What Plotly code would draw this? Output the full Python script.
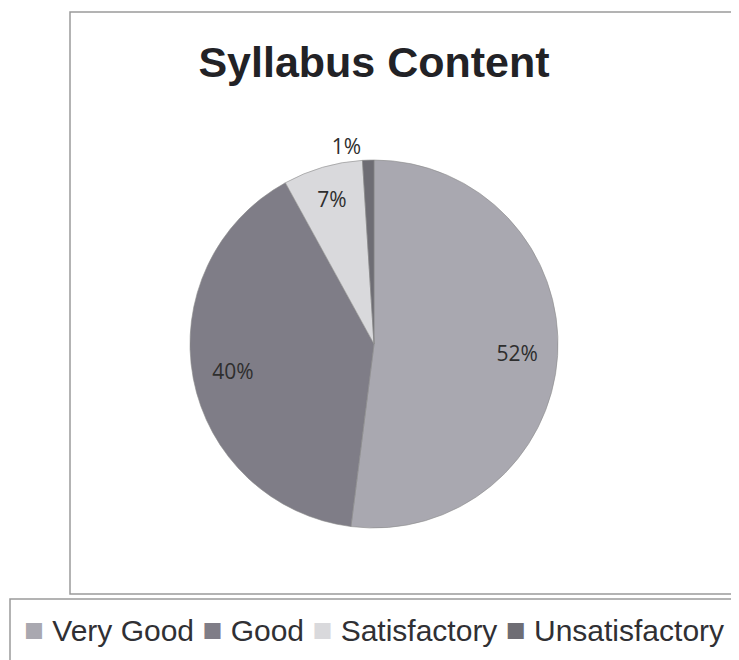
import plotly.graph_objects as go

categories = ["Very Good", "Good", "Satisfactory", "Unsatisfactory"]
values = [52, 40, 7, 1]
colors = ["#a9a8b0", "#7f7d87", "#d9d9dc", "#6e6d74"]
label_positions = ["inside", "inside", "inside", "outside"]

W, H = 731, 652          # page has an 8px body margin
OFF = 8

def px(x):
    return (x - OFF) / W

def py(y):
    return 1 - (y - OFF) / H

pie_domain = dict(x=[px(190), px(558)], y=[py(528), py(160)])

# base pie (colours only)
pie = go.Pie(
    labels=categories, values=values, sort=False,
    direction="clockwise", rotation=0,
    marker=dict(colors=colors, line=dict(color="#8c8c8c", width=0.6)),
    textinfo="none", domain=pie_domain, hoverinfo="label+percent",
    showlegend=False,
)

# transparent ring overlay that carries the percentage labels
labels_ring = go.Pie(
    labels=categories, values=values, sort=False,
    direction="clockwise", rotation=0, hole=0.56,
    marker=dict(colors=["rgba(0,0,0,0)"] * len(values), line=dict(width=0)),
    texttemplate="%{percent:.0%}", textposition=label_positions,
    insidetextorientation="horizontal",
    textfont=dict(family="Open Sans", size=21, color="#2e2e2e"),
    domain=pie_domain, hoverinfo="skip", showlegend=False,
)

fig = go.Figure([pie, labels_ring])

legend_text = "&nbsp;".join(
    f"<span style='color:{c};font-size:33px'>■</span> {name}"
    for name, c in zip(categories, colors)
)

fig.update_layout(
    width=W, height=H,
    margin=dict(l=0, r=0, t=0, b=0),
    paper_bgcolor="white", plot_bgcolor="white",
    title=dict(text="<b>Syllabus Content</b>", x=px(374), xanchor="center",
               y=py(62), yanchor="middle",
               font=dict(family="Liberation Sans", size=43, color="#222226")),
    showlegend=False,
    annotations=[dict(
        text=legend_text, xref="paper", yref="paper",
        x=px(22), y=py(629), xanchor="left", yanchor="middle",
        showarrow=False,
        font=dict(family="Liberation Sans", size=30, color="#303034"),
    )],
    shapes=[
        dict(type="rect", xref="paper", yref="paper",
             x0=px(70), x1=px(735), y0=py(594), y1=py(12),
             line=dict(color="#9a9a9a", width=1.5)),
        dict(type="rect", xref="paper", yref="paper",
             x0=px(10), x1=px(760), y0=py(680), y1=py(599),
             line=dict(color="#9a9a9a", width=1.5)),
    ],
)

fig.write_html("out.html")
